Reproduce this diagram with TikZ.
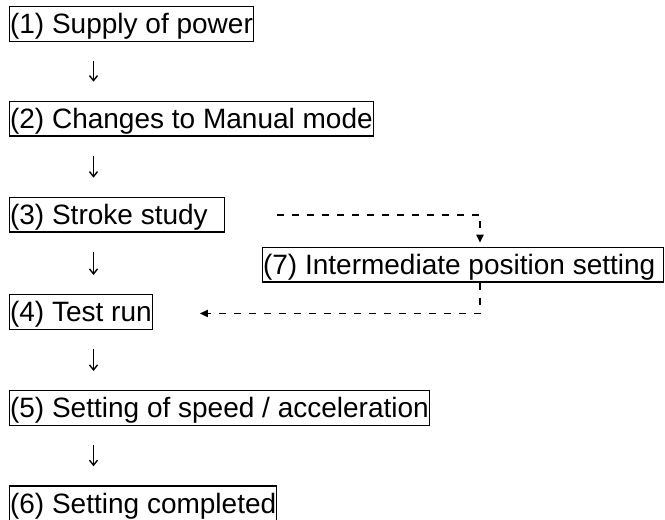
\documentclass[tikz,border=0pt]{standalone}
\usepackage{fontspec}
\setmainfont{Liberation Sans}
\usetikzlibrary{arrows.meta}

\begin{document}
\begin{tikzpicture}[
      x=1pt,y=-1pt,
      >={Triangle[length=8pt,width=7pt]},
      stepbox/.style={draw,line width=1.2pt,anchor=north west,inner xsep=0.5pt,inner ysep=0pt,
        text height=27.3pt,text depth=7.4pt,font=\fontsize{28}{34}\selectfont},
      flow/.style={-{Straight Barb[length=5pt,width=8pt]},line width=1.4pt,
        shorten <=19pt,shorten >=19pt},
      jump/.style={->,line width=1.8pt,dash pattern=on 7pt off 8pt}
    ]
    \useasboundingbox (0,0) rectangle (665,520);
    \node[stepbox] (power) at (9,6) {(1) Supply of power};
    \node[stepbox] (manual) at (9,100.7) {(2) Changes to Manual mode};
    \node[stepbox] (stroke) at (9,196.7) {(3) Stroke study\kern16pt};
    \node[stepbox] (testrun) at (9,294) {(4) Test run};
    \node[stepbox] (speed) at (9,390) {(5) Setting of speed / acceleration};
    \node[stepbox] (done) at (9,485.3) {(6) Setting completed};
    \node[stepbox] (middle) at (262,246.7) {(7) Intermediate position setting\kern8pt};

    \draw[flow] ([xshift=84.5pt]power.south west) -- ([xshift=84.5pt]manual.north west);
    \draw[flow] ([xshift=84.5pt]manual.south west) -- ([xshift=84.5pt]stroke.north west);
    \draw[flow] ([xshift=84.5pt]stroke.south west) -- ([xshift=84.5pt]testrun.north west);
    \draw[flow] ([xshift=84.5pt]testrun.south west) -- ([xshift=84.5pt]speed.north west);
    \draw[flow] ([xshift=84.5pt]speed.south west) -- ([xshift=84.5pt]done.north west);

    \draw[jump] ([xshift=52pt]stroke.east) -| ([xshift=218pt,yshift=4pt]middle.north west);
    \draw[jump] ([xshift=218pt]middle.south west) |- ([xshift=47pt,yshift=-1.5pt]testrun.east);
  \end{tikzpicture}
\end{document}
